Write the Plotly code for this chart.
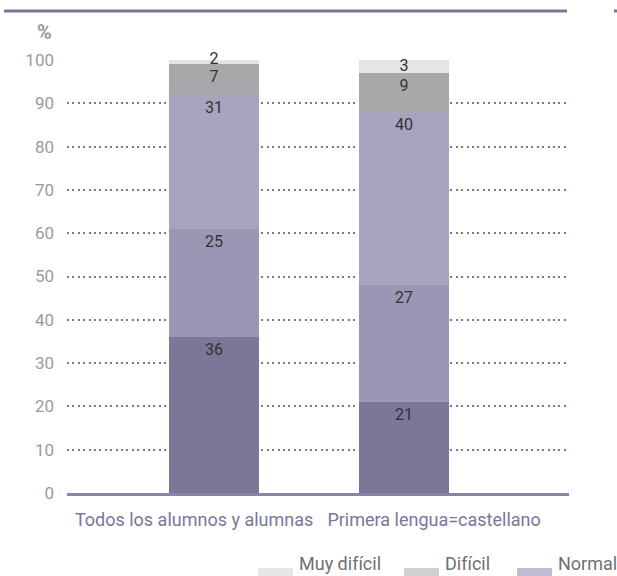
import plotly.graph_objects as go

# Categories and stacked shares (%) from bottom to top of each bar
categories = ["Todos los alumnos y alumnas", "Primera lengua=castellano"]
series_names = ["Muy fácil", "Fácil", "Normal", "Difícil", "Muy difícil"]
muy_facil = [36, 21]
facil = [25, 27]
normal = [31, 40]
dificil = [7, 9]
muy_dificil = [2, 3]
series_values = [muy_facil, facil, normal, dificil, muy_dificil]

bar_colors = ["#7d7699", "#9c96b5", "#a9a3bf", "#a8a8ab", "#e5e5e8"]
legend_order = ["Muy difícil", "Difícil", "Normal"]
legend_colors = {"Muy difícil": "#e6e6e8", "Difícil": "#d0d0d2", "Normal": "#c0bcd4"}

W, H = 617, 576
ML, MR, MT, MB = 67, 48, 60, 83
PW, PH = W - ML - MR, H - MT - MB
FONT = "Roboto, 'Open Sans', sans-serif"
PURPLE = "#7d7599"


def px_x(x):
    return (x - ML) / PW


def px_y(y):
    return (H - MB - y) / PH


fig = go.Figure()
xpos = list(range(len(categories)))
running = [0] * len(categories)
n_series = len(series_names)
for i, (name, vals, col) in enumerate(zip(series_names, series_values, bar_colors)):
    fig.add_trace(go.Bar(
        x=xpos, y=vals, name=name,
        marker=dict(color=col, line=dict(width=0)),
        width=0.474,
        cliponaxis=False,
        showlegend=False,
        hoverinfo="skip",
    ))
    base = running
    running = [r + v for r, v in zip(running, vals)]
    if i < n_series - 1:
        # value label hung just under the top edge of the segment
        label_y, pos, pad = running, "bottom center", 8
    else:
        # thin cap segment: label centred on it
        label_y, pos, pad = [b + v / 2 for b, v in zip(base, vals)], "middle center", 1
    fig.add_trace(go.Scatter(
        x=xpos, y=label_y, mode="markers+text",
        marker=dict(size=pad, opacity=0),
        text=[str(v) for v in vals],
        textposition=pos,
        textfont=dict(family=FONT, size=16, color="#333333"),
        cliponaxis=False, showlegend=False, hoverinfo="skip",
    ))

shapes = [
    # header rule
    dict(type="line", xref="paper", yref="paper",
         x0=px_x(4), x1=px_x(567), y0=px_y(11), y1=px_y(11),
         line=dict(color=PURPLE, width=3)),
    dict(type="line", xref="paper", yref="paper",
         x0=px_x(614), x1=px_x(618), y0=px_y(11), y1=px_y(11),
         line=dict(color=PURPLE, width=3)),
]
annotations = [
    dict(text="<b>%</b>", xref="paper", yref="paper", x=px_x(44.5), y=px_y(32.5),
         xanchor="center", yanchor="middle", showarrow=False,
         font=dict(family=FONT, size=20, color="#9a9a9a")),
]

# legend drawn as swatches and labels along the bottom
legend_x = [258, 404, 517]
for name, lx in zip(legend_order, legend_x):
    shapes.append(dict(type="rect", xref="paper", yref="paper",
                       x0=px_x(lx), x1=px_x(lx + 35), y0=px_y(568), y1=px_y(581),
                       fillcolor=legend_colors[name], line=dict(width=0)))
    annotations.append(dict(text=name, xref="paper", yref="paper",
                            x=px_x(lx + 39), y=px_y(563.5), xanchor="left", yanchor="middle",
                            showarrow=False,
                            font=dict(family=FONT, size=18, color="#707070")))

fig.update_layout(
    width=W, height=H,
    margin=dict(l=ML, r=MR, t=MT, b=MB, pad=0),
    barmode="stack",
    plot_bgcolor="white", paper_bgcolor="white",
    shapes=shapes, annotations=annotations,
    showlegend=False,
    hovermode=False,
    xaxis=dict(
        range=[-0.774, 1.868],
        tickmode="array", tickvals=[-0.105, 1.158], ticktext=categories,
        tickfont=dict(family=FONT, size=18, color=PURPLE),
        ticks="", showgrid=False, zeroline=False,
        showline=True, linecolor="#8a84a8", linewidth=3,
        layer="below traces", ticklabelstandoff=8,
    ),
    yaxis=dict(
        range=[0, 100], dtick=10, tick0=0,
        tickfont=dict(family=FONT, size=17, color="#9a9a9a"),
        ticks="", showgrid=True, gridcolor=PURPLE, gridwidth=2, griddash="2px,3.4px",
        zeroline=False, showline=False, layer="below traces",
        ticklabelstandoff=12,
    ),
)

fig.write_html("out.html")
